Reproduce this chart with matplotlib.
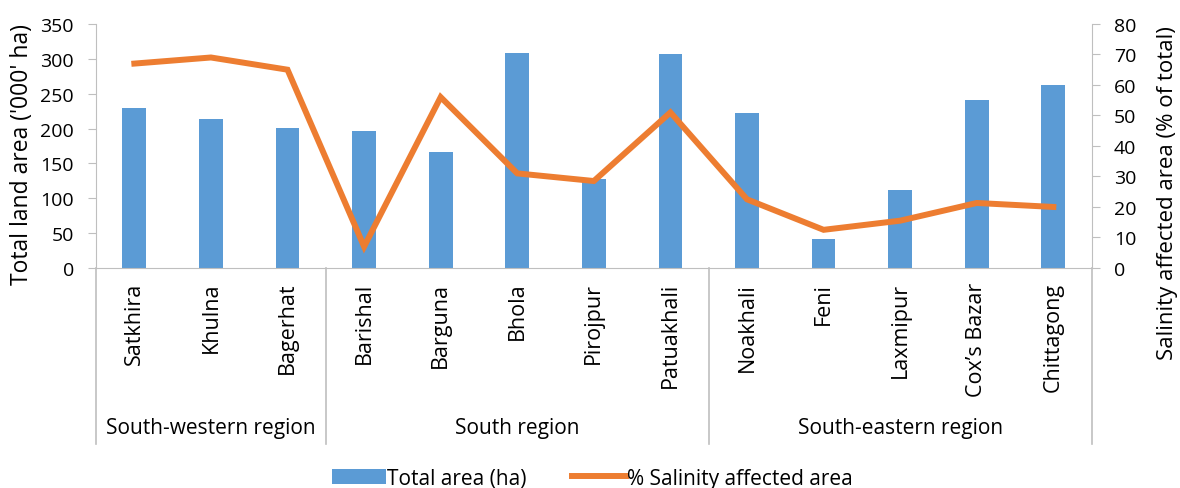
import numpy as np
import matplotlib.pyplot as plt
import matplotlib.transforms as mtransforms

plt.rcParams['font.family'] = ['Open Sans', 'DejaVu Sans']

# Districts grouped by coastal region
districts = ["Satkhira", "Khulna", "Bagerhat", "Barishal", "Barguna", "Bhola",
             "Pirojpur", "Patuakhali", "Noakhali", "Feni", "Laxmipur",
             "Cox\u2019s Bazar", "Chittagong"]
regions = ["South-western region", "South region", "South-eastern region"]
region_sizes = [3, 5, 5]

total_area = [230, 213, 201, 196, 167, 308, 128, 307, 222, 41, 112, 241, 263]
salinity_pct = [67, 69, 65, 7, 56, 31, 28.5, 51, 22.5, 12.5, 15.5, 21.3, 20]

blue = "#5B9BD5"
orange = "#ED7D31"
grey = "#BFBFBF"

fig = plt.figure(figsize=(11.8, 4.89), dpi=100)
ax = fig.add_axes([0.0814, 0.45, 0.8437, 0.499])
ax2 = ax.twinx()

x = np.arange(len(districts))
ax.bar(x, total_area, width=0.31, color=blue, label="Total area (ha)")
ax2.plot(x, salinity_pct, color=orange, lw=4.3, solid_joinstyle="miter",
         label="% Salinity affected area")

ax.set_xlim(-0.5, len(districts) - 0.5)
ax.set_ylim(0, 350)
ax.set_yticks(range(0, 351, 50))
ax2.set_ylim(0, 80)
ax2.set_yticks(range(0, 81, 10))

for a in (ax, ax2):
    for s in a.spines.values():
        s.set_color(grey)
    a.spines["top"].set_visible(False)
ax.spines["right"].set_visible(False)
ax2.spines["left"].set_visible(False)
ax2.spines["bottom"].set_visible(False)

ax.tick_params(axis="y", direction="out", length=6, color=grey, labelsize=14, pad=10)
ax2.tick_params(axis="y", direction="out", length=6, color=grey, labelsize=14, pad=10)
ax.set_xticks(x)
ax.set_xticklabels(districts, rotation=90, fontsize=15.5)
ax.tick_params(axis="x", length=0, pad=10)

ax.set_ylabel("Total land area ('000' ha)", fontsize=16.5)
ax.yaxis.set_label_coords(-0.062, 0.47)
ax2.set_ylabel("Salinity affected area (% of total)", fontsize=16)
ax2.yaxis.set_label_coords(1.066, 0.31)

# Region group separators and labels below the district names
trans = mtransforms.blended_transform_factory(ax.transData, ax.transAxes)
bounds = np.concatenate([[0], np.cumsum(region_sizes)]) - 0.5
for b in bounds:
    ax.plot([b, b], [0, -0.72], transform=trans, color=grey, lw=1.2, clip_on=False)
for i, name in enumerate(regions):
    centre = (bounds[i] + bounds[i + 1]) / 2
    ax.text(centre, -0.652, name, transform=trans, ha="center", va="center",
            fontsize=15)

h1, l1 = ax.get_legend_handles_labels()
h2, l2 = ax2.get_legend_handles_labels()
fig.legend(h1 + h2, l1 + l2, loc="center", bbox_to_anchor=(0.502, 0.02),
           ncol=2, frameon=False, fontsize=15, handlelength=2.6,
           handleheight=0.7, columnspacing=2.2, handletextpad=0.05,
           borderpad=0, borderaxespad=0)

fig.savefig("out.png", dpi=100)
